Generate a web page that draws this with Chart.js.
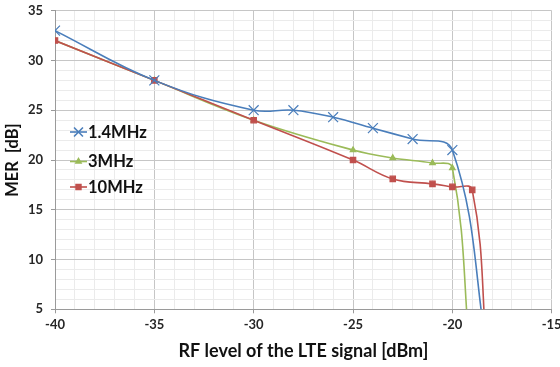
<!DOCTYPE html>
<html>
<head>
<meta charset="utf-8">
<script src="https://cdn.jsdelivr.net/npm/chart.js@4/dist/chart.umd.min.js"></script>
<style>
  html, body { margin: 0; padding: 0; background: #fff; overflow: hidden; }
  #wrap { width: 570px; height: 367px; }
</style>
</head>
<body>
<div id="wrap"><canvas id="c" width="570" height="367"></canvas></div>
<script>
// MER versus RF input level for three LTE channel bandwidths
const seriesNames = ['1.4MHz', '3MHz', '10MHz'];

const rf14 = [-40, -35, -30, -28, -26, -24, -22, -20, -18.2];
const mer14 = [33, 28, 25, 25, 24.3, 23.2, 22.1, 21, 0];

const rf3 = [-40, -35, -30, -25, -23, -21, -20, -19.1];
const mer3 = [32, 28, 24, 21, 20.2, 19.7, 19.2, 0];

const rf10 = [-40, -35, -30, -25, -23, -21, -20, -19, -18.25];
const mer10 = [32, 28, 24, 20, 18.1, 17.6, 17.3, 17, 0];

const xTickLabels = [-40, -35, -30, -25, -20, -15];
const yTickLabels = [5, 10, 15, 20, 25, 30, 35];

const colors = ['#4A7EBB', '#9BBB59', '#C0504D'];
const markers = ['crossRot', 'triangle', 'rect'];
const markerSizes = [7, 3.2, 3.8];
const drawOrder = [0, 2, 1];

const FONT = 'Lato, "Open Sans", "DejaVu Sans", sans-serif';

function pts(xs, ys) { return xs.map((x, i) => ({ x: x, y: ys[i] })); }

const sets = [pts(rf14, mer14), pts(rf3, mer3), pts(rf10, mer10)];

const datasets = sets.map((d, k) => ({
  label: seriesNames[k],
  data: d,
  order: drawOrder[k],
  borderColor: colors[k],
  backgroundColor: colors[k],
  borderWidth: 1.6,
  tension: 0.4,
  capBezierPoints: false,
  pointStyle: markers[k],
  pointBorderColor: colors[k],
  pointBackgroundColor: colors[k],
  pointBorderWidth: 1.2,
  pointRadius: markerSizes[k],
  pointHoverRadius: 0
}));

// Legend drawn inside the plot area, left side
const insideLegend = {
  id: 'insideLegend',
  afterDatasetsDraw(chart) {
    const ctx = chart.ctx;
    const rows = [132, 161.5, 187];
    ctx.save();
    chart.data.datasets.forEach((ds, i) => {
      const y = rows[i];
      ctx.strokeStyle = ds.borderColor;
      ctx.lineWidth = 1.6;
      ctx.beginPath();
      ctx.moveTo(70, y);
      ctx.lineTo(87, y);
      ctx.stroke();
      ctx.fillStyle = ds.borderColor;
      Chart.helpers.drawPoint(ctx, {
        pointStyle: ds.pointStyle,
        radius: markerSizes[i] * 0.9,
        rotation: 0,
        borderWidth: 1.2
      }, 78.5, y);
      ctx.fillStyle = '#111';
      ctx.font = 'bold 16.5px ' + FONT;
      ctx.textBaseline = 'middle';
      ctx.textAlign = 'left';
      ctx.fillText(ds.label, 88, y + 0.5);
    });
    ctx.restore();
  }
};

const isMajor = v => Math.abs(Math.round(v) % 5) === 0;

new Chart(document.getElementById('c'), {
  type: 'line',
  data: { datasets: datasets },
  plugins: [insideLegend],
  options: {
    responsive: false,
    animation: false,
    layout: { padding: { top: 10.7, right: 18.3, bottom: 0, left: 0 } },
    plugins: { legend: { display: false }, tooltip: { enabled: false } },
    scales: {
      x: {
        type: 'linear',
        min: -40,
        max: -15,
        afterFit(s) { s.height = 57.7; s.paddingLeft = 0; s.paddingRight = 0; },
        ticks: {
          stepSize: 1,
          autoSkip: false,
          maxRotation: 0,
          padding: 4,
          color: '#262626',
          font: { family: FONT, size: 13, weight: 'bold' },
          callback: v => (xTickLabels.includes(Math.round(v)) && isMajor(v) ? String(Math.round(v)) : '')
        },
        grid: {
          color: c => (c.tick && isMajor(c.tick.value) ? '#c6c6c6' : '#ebebeb'),
          lineWidth: 1,
          tickLength: 4,
          tickColor: c => (c.tick && isMajor(c.tick.value) ? '#9a9a9a' : 'rgba(0,0,0,0)')
        },
        border: { color: '#9a9a9a', width: 1 },
        title: {
          display: true,
          text: 'RF level of the LTE signal [dBm]',
          color: '#111',
          font: { family: FONT, size: 18, weight: 'bold' },
          padding: { top: 0, bottom: 5 }
        }
      },
      y: {
        type: 'linear',
        min: 5,
        max: 35,
        afterFit(s) { s.width = 55; s.paddingTop = 0; s.paddingBottom = 0; },
        ticks: {
          stepSize: 1,
          autoSkip: false,
          padding: 8,
          color: '#262626',
          font: { family: FONT, size: 13, weight: 'bold' },
          callback: v => (yTickLabels.includes(Math.round(v)) && isMajor(v) ? String(Math.round(v)) : '')
        },
        grid: {
          color: c => (c.tick && isMajor(c.tick.value) ? '#c6c6c6' : '#ebebeb'),
          lineWidth: 1,
          tickLength: 4,
          tickColor: c => (c.tick && isMajor(c.tick.value) ? '#9a9a9a' : 'rgba(0,0,0,0)')
        },
        border: { color: '#9a9a9a', width: 1 },
        title: {
          display: true,
          text: 'MER  [dB]',
          color: '#111',
          font: { family: FONT, size: 16.5, weight: 'bold' },
          padding: { top: 3, bottom: 0 }
        }
      }
    }
  }
});
</script>
</body>
</html>
